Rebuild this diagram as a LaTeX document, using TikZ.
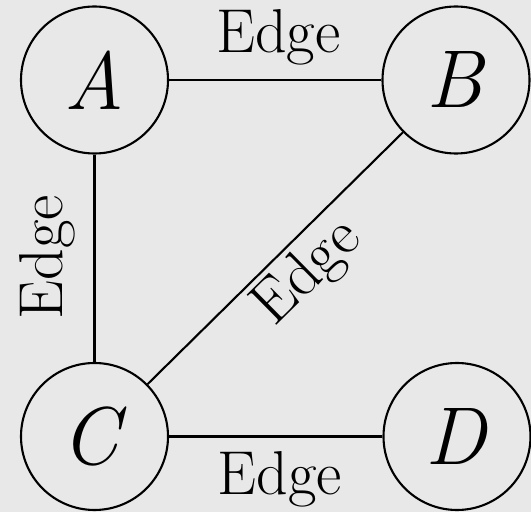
\documentclass[tikz,border=0pt]{standalone}
\usepackage{fontspec}
\definecolor{bggray}{HTML}{E8E8E8}
\tikzset{
  vertex/.style={circle, draw=black, line width=2.1pt, minimum size=147pt, inner sep=0pt,
    font=\fontsize{82}{86}\selectfont},
  link/.style={draw=black, line width=2.1pt},
  elabel/.style={font=\fontsize{62}{66}\selectfont, inner sep=0pt, anchor=base}
}
\begin{document}
\begin{tikzpicture}[x=1pt,y=1pt]
\path[fill=bggray] (0,0) rectangle (531,512);
\useasboundingbox (0,0) rectangle (531,512);
\node[vertex] (A) at (94.5,432) {\textit{A}};
\node[vertex] (B) at (456,432) {\textit{B}};
\node[vertex] (C) at (94.5,75.5) {\textit{C}};
\node[vertex] (D) at (457,75.5) {\textit{D}};
\draw[link] (A) -- node[elabel, midway, xshift=3pt, yshift=27pt] (lab) {Edge} (B);
\draw[link] (C) -- node[elabel, midway, rotate=90, yshift=31.5pt, xshift=1pt] (lca) {Edge} (A);
\draw[link] (C) -- node[elabel, midway, rotate=44.6, yshift=-49pt, xshift=13pt] (lcb) {Edge} (B);
\draw[link] (C) -- node[elabel, midway, xshift=4pt, yshift=-58.5pt] (lcd) {Edge} (D);
\end{tikzpicture}
\end{document}
